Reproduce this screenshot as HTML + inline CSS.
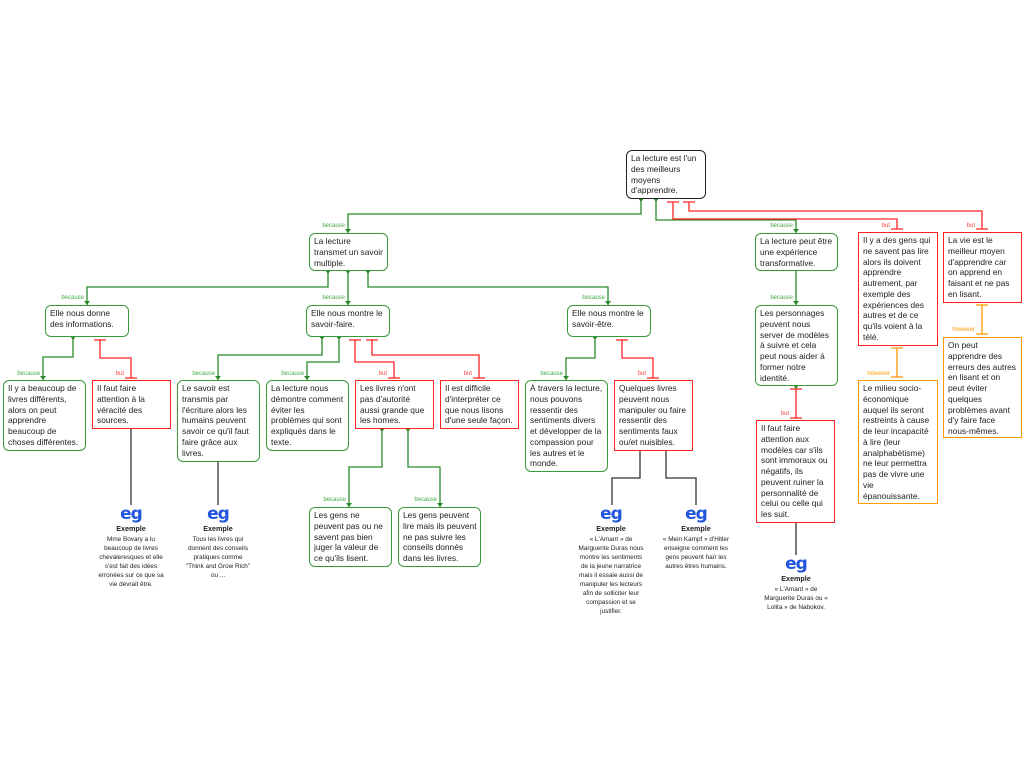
<!DOCTYPE html>
<html><head><meta charset="utf-8"><style>
body{margin:0;width:1024px;height:768px;background:#fff;position:relative;overflow:hidden;font-family:"Liberation Sans",sans-serif}
.b{position:absolute;box-sizing:border-box;font-size:8.4px;line-height:10.75px;color:#222;padding:2px 4px;white-space:nowrap;background:#fff;overflow:hidden}
.g{border:1.3px solid #3a9a3a;border-radius:6px}
.r{border:1.3px solid #f22}
.o{border:1.3px solid #f90}
.k{border:1.3px solid #222;border-radius:6px}
.l{position:absolute;font-size:6px;white-space:nowrap;transform:translateX(-100%)}
.lg{color:#4a4}.lr{color:#f44}.lo{color:#f90}
.eg{position:absolute;transform:translateX(-50%);text-align:center;white-space:nowrap;font-size:6.4px;line-height:9px;color:#222}
.eg .i{font-size:17px;font-weight:bold;color:#2255dd;line-height:16px;font-family:"DejaVu Sans",sans-serif;letter-spacing:-1px}
.eg .t{font-weight:bold;font-size:7.2px;margin:2px 0 2px}
</style></head><body>
<svg width="1024" height="768" style="position:absolute;left:0;top:0" fill="none" stroke-width="1.3">
<g stroke="#2a8a2a">
<path d="M641 198V214H348V233"/>
<path d="M656 198V220H796V233"/>
<path d="M328 270V287H87V305"/>
<path d="M348 270V305"/>
<path d="M368 270V287H608V305"/>
<path d="M73 336V357H43V380"/>
<path d="M322 336V355H218V380"/>
<path d="M339 336V362H307V380"/>
<path d="M595 336V358H566V380"/>
<path d="M382 428V467H349V507"/>
<path d="M408 428V467H440V507"/>
<path d="M796 270V305"/>
</g>
<g fill="#2a8a2a">
<path d="M345 229h6l-3 4z"/><path d="M793 229h6l-3 4z"/><path d="M84 301h6l-3 4z"/><path d="M345 301h6l-3 4z"/><path d="M605 301h6l-3 4z"/>
<path d="M40 376h6l-3 4z"/><path d="M215 376h6l-3 4z"/><path d="M304 376h6l-3 4z"/><path d="M563 376h6l-3 4z"/><path d="M346 503h6l-3 4z"/><path d="M437 503h6l-3 4z"/><path d="M793 301h6l-3 4z"/>
<path d="M638 198h6l-3 4z"/><path d="M653 198h6l-3 4z"/><path d="M325 270h6l-3 4z"/><path d="M345 270h6l-3 4z"/><path d="M365 270h6l-3 4z"/><path d="M70 336h6l-3 4z"/><path d="M319 336h6l-3 4z"/><path d="M336 336h6l-3 4z"/><path d="M592 336h6l-3 4z"/><path d="M379 428h6l-3 4z"/><path d="M405 428h6l-3 4z"/><path d="M793 385h6l-3 4z"/>
</g>
<g stroke="#f22">
<path d="M673 202V219H897V229"/>
<path d="M689 202V211H982V229"/>
<path d="M667 202h12M683 202h12M891 229h12M976 229h12"/>
<path d="M100 340V358H131V378M94 340h12M125 378h12"/>
<path d="M355 340V362H394V378M349 340h12M388 378h12"/>
<path d="M372 340V355H479V378M366 340h12M473 378h12"/>
<path d="M622 340V358H653V378M616 340h12M647 378h12"/>
<path d="M796 389V418M790 389h12M790 418h12"/>
</g>
<g stroke="#f90">
<path d="M897 348V377M891 348h12M891 377h12"/>
<path d="M982 305V334M976 305h12M976 334h12"/>
</g>
<g stroke="#333">
<path d="M131 428V505"/><path d="M218 461V505"/>
<path d="M640 450V478H612V505"/><path d="M666 450V478H696V505"/>
<path d="M796 522V555"/>
</g>
</svg>

<div class="b k" style="left:626px;top:150px;width:80px;height:49px">La lecture est l'un<br>des meilleurs<br>moyens<br>d'apprendre.</div>
<div class="b g" style="left:309px;top:233px;width:79px;height:38px">La lecture<br>transmet un savoir<br>multiple.</div>
<div class="b g" style="left:45px;top:305px;width:84px;height:32px">Elle nous donne<br>des informations.</div>
<div class="b g" style="left:306px;top:305px;width:84px;height:32px">Elle nous montre le<br>savoir-faire.</div>
<div class="b g" style="left:567px;top:305px;width:84px;height:32px">Elle nous montre le<br>savoir-être.</div>
<div class="b g" style="left:3px;top:380px;width:83px;height:71px">Il y a beaucoup de<br>livres différents,<br>alors on peut<br>apprendre<br>beaucoup de<br>choses différentes.</div>
<div class="b r" style="left:92px;top:380px;width:79px;height:49px">Il faut faire<br>attention à la<br>véracité des<br>sources.</div>
<div class="b g" style="left:177px;top:380px;width:83px;height:82px">Le savoir est<br>transmis par<br>l'écriture alors les<br>humains peuvent<br>savoir ce qu'il faut<br>faire grâce aux<br>livres.</div>
<div class="b g" style="left:266px;top:380px;width:83px;height:71px">La lecture nous<br>démontre comment<br>éviter les<br>problèmes qui sont<br>expliqués dans le<br>texte.</div>
<div class="b r" style="left:355px;top:380px;width:79px;height:49px">Les livres n'ont<br>pas d'autorité<br>aussi grande que<br>les homes.</div>
<div class="b r" style="left:440px;top:380px;width:79px;height:49px">Il est difficile<br>d'interpréter ce<br>que nous lisons<br>d'une seule façon.</div>
<div class="b g" style="left:525px;top:380px;width:83px;height:92px">À travers la lecture,<br>nous pouvons<br>ressentir des<br>sentiments divers<br>et développer de la<br>compassion pour<br>les autres et le<br>monde.</div>
<div class="b r" style="left:614px;top:380px;width:79px;height:71px">Quelques livres<br>peuvent nous<br>manipuler ou faire<br>ressentir des<br>sentiments faux<br>ou/et nuisibles.</div>
<div class="b g" style="left:309px;top:507px;width:83px;height:60px">Les gens ne<br>peuvent pas ou ne<br>savent pas bien<br>juger la valeur de<br>ce qu'ils lisent.</div>
<div class="b g" style="left:398px;top:507px;width:83px;height:60px">Les gens peuvent<br>lire mais ils peuvent<br>ne pas suivre les<br>conseils donnés<br>dans les livres.</div>
<div class="b g" style="left:755px;top:233px;width:83px;height:38px">La lecture peut être<br>une expérience<br>transformative.</div>
<div class="b g" style="left:755px;top:305px;width:83px;height:81px">Les personnages<br>peuvent nous<br>server de modèles<br>à suivre et cela<br>peut nous aider à<br>former notre<br>identité.</div>
<div class="b r" style="left:756px;top:420px;width:79px;height:103px">Il faut faire<br>attention aux<br>modèles car s'ils<br>sont immoraux ou<br>négatifs, ils<br>peuvent ruiner la<br>personnalité de<br>celui ou celle qui<br>les suit.</div>
<div class="b r" style="left:858px;top:232px;width:80px;height:114px">Il y a des gens qui<br>ne savent pas lire<br>alors ils doivent<br>apprendre<br>autrement, par<br>exemple des<br>expériences des<br>autres et de ce<br>qu'ils voient à la<br>télé.</div>
<div class="b o" style="left:858px;top:380px;width:80px;height:124px">Le milieu socio-<br>économique<br>auquel ils seront<br>restreints à cause<br>de leur incapacité<br>à lire (leur<br>analphabétisme)<br>ne leur permettra<br>pas de vivre une<br>vie<br>épanouissante.</div>
<div class="b r" style="left:943px;top:232px;width:79px;height:71px">La vie est le<br>meilleur moyen<br>d'apprendre car<br>on apprend en<br>faisant et ne pas<br>en lisant.</div>
<div class="b o" style="left:943px;top:337px;width:79px;height:101px">On peut<br>apprendre des<br>erreurs des autres<br>en lisant et on<br>peut éviter<br>quelques<br>problèmes avant<br>d'y faire face<br>nous-mêmes.</div>

<div class="l lg" style="left:345px;top:223px">because</div>
<div class="l lg" style="left:793px;top:223px">because</div>
<div class="l lg" style="left:84px;top:295px">because</div>
<div class="l lg" style="left:345px;top:295px">because</div>
<div class="l lg" style="left:605px;top:295px">because</div>
<div class="l lg" style="left:793px;top:295px">because</div>
<div class="l lg" style="left:40px;top:371px">because</div>
<div class="l lg" style="left:215px;top:371px">because</div>
<div class="l lg" style="left:304px;top:371px">because</div>
<div class="l lg" style="left:563px;top:371px">because</div>
<div class="l lg" style="left:346px;top:497px">because</div>
<div class="l lg" style="left:437px;top:497px">because</div>
<div class="l lr" style="left:124px;top:371px">but</div>
<div class="l lr" style="left:387px;top:371px">but</div>
<div class="l lr" style="left:472px;top:371px">but</div>
<div class="l lr" style="left:646px;top:371px">but</div>
<div class="l lr" style="left:890px;top:223px">but</div>
<div class="l lr" style="left:975px;top:223px">but</div>
<div class="l lr" style="left:789px;top:411px">but</div>
<div class="l lo" style="left:890px;top:371px">however</div>
<div class="l lo" style="left:975px;top:327px">however</div>

<div class="eg" style="left:131px;top:506px"><div class="i">eg</div><div class="t">Exemple</div>Mme Bovary a lu<br>beaucoup de livres<br>chevaleresques et elle<br>s'est fait des idées<br>erronées sur ce que sa<br>vie devrait être.</div>
<div class="eg" style="left:218px;top:506px"><div class="i">eg</div><div class="t">Exemple</div>Tous les livres qui<br>donnent des conseils<br>pratiques comme<br>"Think and Grow Rich"<br>ou ...</div>
<div class="eg" style="left:611px;top:506px"><div class="i">eg</div><div class="t">Exemple</div>« L'Amant » de<br>Marguerite Duras nous<br>montre les sentiments<br>de la jeune narratrice<br>mais il essaie aussi de<br>manipuler les lecteurs<br>afin de solliciter leur<br>compassion et se<br>justifier.</div>
<div class="eg" style="left:696px;top:506px"><div class="i">eg</div><div class="t">Exemple</div>« Mein Kampf » d'Hitler<br>enseigne comment les<br>gens peuvent haïr les<br>autres êtres humains.</div>
<div class="eg" style="left:796px;top:556px"><div class="i">eg</div><div class="t">Exemple</div>« L'Amant » de<br>Marguerite Duras ou «<br>Lolita » de Nabokov.</div>
</body></html>
